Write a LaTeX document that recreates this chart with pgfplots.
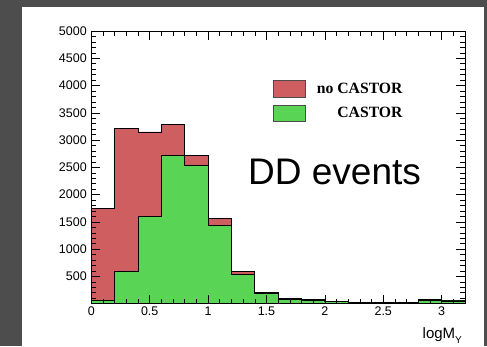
\documentclass[border=0pt]{standalone}
\usepackage{pgfplots}
\pgfplotsset{compat=1.18}
\usepackage{fontspec}
\setmainfont{Liberation Sans}
\newfontfamily\legfont{Liberation Serif}
\definecolor{rootred}{RGB}{207,94,97}
\definecolor{rootgreen}{RGB}{89,212,84}
\definecolor{bggray}{RGB}{77,77,77}
\begin{document}
\begin{tikzpicture}[x=1bp,y=1bp]
\useasboundingbox (0,0) rectangle (487,346);
\fill[bggray] (0,0) rectangle (487,346);
\fill[white] (22,0) rectangle (484,339);
\begin{axis}[
  at={(91.3bp,42.3bp)}, anchor=south west,
  scale only axis, width=373.7bp, height=272.7bp,
  xmin=0, xmax=3.2, ymin=0, ymax=5000,
  axis on top=true,
  xtick={0,0.5,1,1.5,2,2.5,3},
  xticklabels={0,0.5,1,1.5,2,2.5,3},
  minor xtick={0,0.1,...,3.2},
  ytick={500,1000,...,5000},
  minor ytick={0,100,...,5000},
  major tick length=9bp, minor tick length=5bp,
  tick align=inside,
  tick style={black, line width=0.6bp},
  axis line style={black, line width=0.8bp},
  scaled ticks=false,
  /pgf/number format/1000 sep={},
  /pgf/number format/assume math mode=true,
  ticklabel style={font=\fontsize{12.5bp}{14bp}\selectfont},
  yticklabel style={xshift=-1bp},
  legend cell align=right,
  legend style={at={(0.4854,0.8203)}, anchor=north west, draw=none, fill=none,
    inner sep=0pt, outer sep=0pt,
    font=\legfont\bfseries\fontsize{15.7bp}{18bp}\selectfont,
    row sep=7.5bp,
    nodes={inner sep=0pt},
    /tikz/every odd column/.append style={column sep=11bp}},
  legend image code/.code={\draw[#1, draw=black!70, line width=0.6bp] (0bp,-8.25bp) rectangle (32.6bp,8.25bp);},
]
\addplot[fill=rootred, draw=black, line width=0.8bp, const plot mark left] coordinates {
(0,1750) (0.2,3210) (0.4,3150) (0.6,3285) (0.8,2720) (1.0,1560) (1.2,585) (1.4,212)
(1.6,95) (1.8,73) (2.0,44) (2.2,30) (2.4,25) (2.6,25) (2.8,70) (3.0,62) (3.2,62)} \closedcycle;
\addlegendentry{no CASTOR}
\addplot[fill=rootgreen, draw=black, line width=0.8bp, const plot mark left] coordinates {
(0,62) (0.2,590) (0.4,1595) (0.6,2720) (0.8,2535) (1.0,1437) (1.2,538) (1.4,190)
(1.6,78) (1.8,64) (2.0,35) (2.2,24) (2.4,20) (2.6,20) (2.8,58) (3.0,50) (3.2,50)} \closedcycle;
\addlegendentry{CASTOR}
\end{axis}
\node[anchor=base west, inner sep=0pt, font=\fontsize{37bp}{40bp}\selectfont] at (248,162) {DD events};
\node[anchor=base west, inner sep=0pt, font=\fontsize{15bp}{17bp}\selectfont] at (422.5,8) {logM\raisebox{-5bp}{\fontsize{10bp}{11bp}\selectfont Y}};
\end{tikzpicture}
\end{document}
